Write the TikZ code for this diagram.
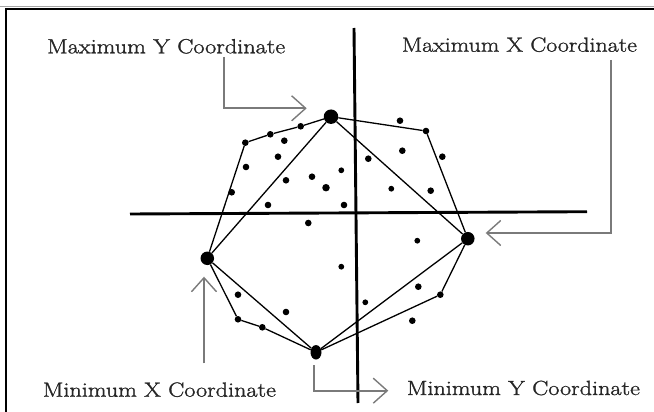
\documentclass[tikz,border=0pt]{standalone}
\usepackage{graphicx}
\usepackage{fontspec}
\newfontfamily\lblfont[FakeBold=1.2]{Latin Modern Roman}
\usetikzlibrary{arrows.meta,shapes.geometric}
\begin{document}
\begin{tikzpicture}[x=1pt,y=-1pt,
  dot/.style={circle,fill=black,inner sep=0pt,minimum size=6.6pt},
  bigdot/.style={circle,fill=black,inner sep=0pt,minimum size=13.5pt},
  hull/.style={black,line width=1.3pt},
  axisline/.style={black,line width=2.9pt},
  callout/.style={draw=black!52,line width=1.8pt,
    -{Straight Barb[length=14pt,width=25pt,line width=1.4pt]}},
  lbl/.style={inner sep=0pt,anchor=base west,text=black!85,font=\lblfont\fontsize{20.5}{24}\selectfont},
]
\useasboundingbox (0,0) rectangle (654,412);
% frame
\draw[black!35,line width=0.8pt] (0,6.8) -- (654,6.8);
\draw[black,line width=2pt] (6,412) -- (6,9.3) -- (654,9.3);
% axes
\coordinate (hxL) at (130,214);
\coordinate (hxR) at (587,211.7);
\coordinate (vyT) at (354,28);
\coordinate (vyB) at (358,403);
\draw[axisline] (hxL) -- (hxR);
\draw[axisline] (vyT) -- (vyB);
% extreme points
\node[bigdot,minimum size=14.5pt] (MY) at (331,116.7) {};
\node[bigdot] (MX) at (467.8,238.7) {};
\node[bigdot] (MnX) at (207.3,258.3) {};
\node[ellipse,fill=black,inner sep=0pt,minimum width=11pt,minimum height=14.5pt] (MnY) at (316,352.3) {};
% hull points
\node[dot] (h1) at (400,120.7) {};
\node[dot] (h2) at (426,131) {};
\node[dot] (h3) at (440.3,294.7) {};
\node[dot] (h4) at (262.3,327.3) {};
\node[dot] (h5) at (238,319.3) {};
\node[dot] (h6) at (245.3,142.7) {};
\node[dot] (h7) at (270.3,134.3) {};
\node[dot] (h8) at (300.7,126.3) {};
% interior points
\node[dot] (p1) at (284.3,140.7) {};
\node[dot] (p2) at (278,156.7) {};
\node[dot] (p3) at (246,167) {};
\node[dot] (p4) at (286,180.3) {};
\node[dot] (p5) at (312,176.7) {};
\node[dot,minimum size=7.5pt] (p6) at (326,187.7) {};
\node[dot,minimum size=5.8pt] (p7) at (341.3,170.3) {};
\node[dot] (p8) at (231.7,192.3) {};
\node[dot] (p9) at (268,205) {};
\node[dot] (p10) at (344,205) {};
\node[dot] (p11) at (308.3,223) {};
\node[dot] (p12) at (368.3,158.7) {};
\node[dot] (p13) at (402.3,150.7) {};
\node[dot,minimum size=5.8pt] (p14) at (391.3,188.7) {};
\node[dot] (p15) at (430.7,190.7) {};
\node[dot,minimum size=5.8pt] (p16) at (417.3,240.7) {};
\node[dot,minimum size=5.8pt] (p17) at (341.3,266.7) {};
\node[dot] (p18) at (418.3,286.7) {};
\node[dot] (p19) at (412.3,320.7) {};
\node[dot,minimum size=5.8pt] (p20) at (365.3,302.3) {};
\node[dot] (p21) at (286,312) {};
\node[dot] (p22) at (238,294.7) {};
\node[dot] (p23) at (442.3,156.7) {};
% outer hull
\draw[hull] (MY) -- (h2) -- (MX) -- (h3) -- (MnY) -- (h4) -- (h5) -- (MnX)
  -- (h6) -- (h7) -- (h8) -- (MY);
% inner quadrilateral
\draw[hull] (MY) -- (MX) -- (MnY) -- (MnX) -- (MY);
% labels
\node[lbl] (lMY) at (47,53.3) {\resizebox{238pt}{\height}{Maximum Y Coordinate}};
\node[lbl] (lMX) at (401.7,51.7) {\resizebox{235pt}{\height}{Maximum X Coordinate}};
\node[lbl] (lMnX) at (42.7,396.7) {\resizebox{233pt}{\height}{Minimum X Coordinate}};
\node[lbl] (lMnY) at (406.7,395) {\resizebox{233pt}{\height}{Minimum Y Coordinate}};
% callout arrows
\coordinate (sMY) at (224.3,57);
\coordinate (tMY) at (306.7,108.3);
\draw[callout] (sMY) |- (tMY);
\coordinate (sMX) at (610.7,60);
\coordinate (tMX) at (485.7,233);
\draw[callout] (sMX) |- (tMX);
\coordinate (sMnX) at (204,363.3);
\coordinate (tMnX) at (204,276.7);
\draw[callout] (sMnX) -- (tMnX);
\coordinate (sMnY) at (314,365);
\coordinate (tMnY) at (388.3,390.7);
\draw[callout] (sMnY) |- (tMnY);
\end{tikzpicture}
\end{document}
